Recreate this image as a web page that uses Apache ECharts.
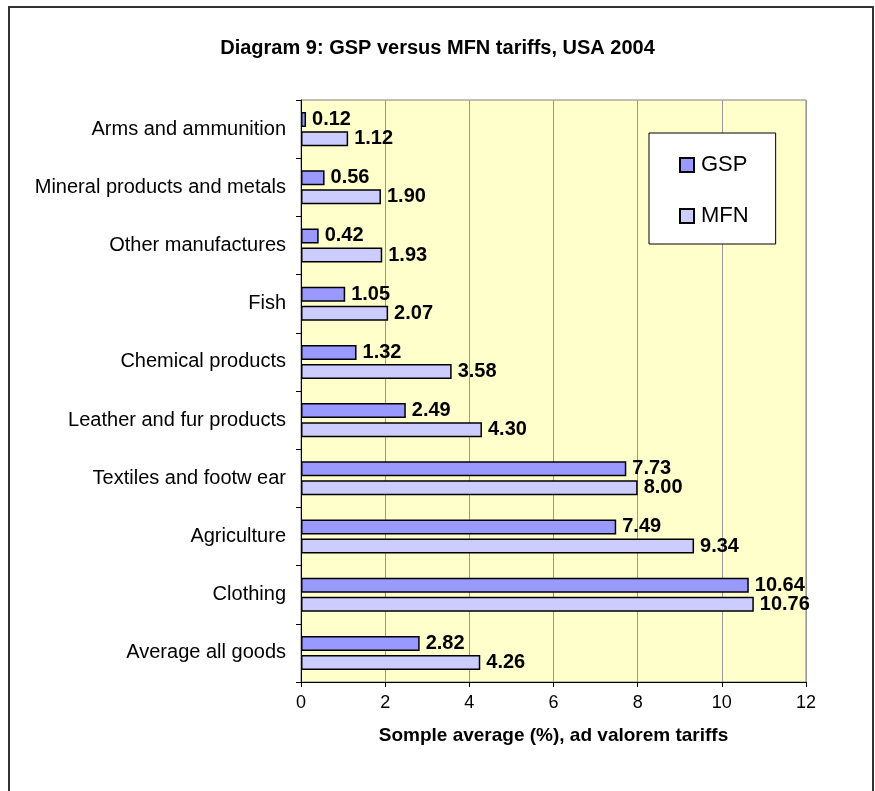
<!DOCTYPE html>
<html>
<head>
<meta charset="utf-8">
<script src="https://cdn.jsdelivr.net/npm/echarts@6/dist/echarts.min.js"></script>
<style>html,body{margin:0;padding:0;background:#fff;}#c{width:875px;height:791px;}</style>
</head>
<body>
<div id="c"></div>
<script>
const categories = ["Average all goods","Clothing","Agriculture","Textiles and footw ear","Leather and fur products","Chemical products","Fish","Other manufactures","Mineral products and metals","Arms and ammunition"];
const gspValues = [2.82,10.64,7.49,7.73,2.49,1.32,1.05,0.42,0.56,0.12];
const mfnValues = [4.26,10.76,9.34,8.00,4.30,3.58,2.07,1.93,1.90,1.12];
const xTicks = [0,2,4,6,8,10,12];

const FONT = 'Liberation Sans, Arial, sans-serif';
const chart = echarts.init(document.getElementById('c'));
const labelStyle = {show:true, position:'right', distance:6, fontFamily:FONT, fontWeight:'bold', fontSize:20, color:'#000', formatter: p => p.value.toFixed(2)};
chart.setOption({
  animation:false,
  title:{text:'Diagram 9: GSP versus MFN tariffs, USA 2004', left:'center', top:33, textStyle:{fontFamily:FONT, fontWeight:'bold', fontSize:20, color:'#000'}},
  graphic:[{type:'rect', shape:{x:9,y:7,width:864,height:790}, style:{fill:'none', stroke:'#333', lineWidth:2}, z:-1}],
  legend:{
    data:['GSP','MFN'], orient:'vertical', left:649, top:133,
    padding:[21,27,17,30], itemGap:29, itemWidth:14, itemHeight:14,
    backgroundColor:'#fff', borderColor:'#000', borderWidth:1,
    icon:'rect',
    textStyle:{fontFamily:FONT, fontSize:22, color:'#000', padding:[0,0,0,2]}
  },
  grid:{left:301, right:69, top:100, bottom:109, show:true, backgroundColor:'#FFFFCC', borderColor:'#808080', borderWidth:1},
  xAxis:{type:'value', min:0, max:12, interval:2,
    name:'Somple average (%), ad valorem tariffs', nameLocation:'middle', nameGap:44,
    nameTextStyle:{fontFamily:FONT, fontWeight:'bold', fontSize:19, color:'#000'},
    axisLine:{show:true, lineStyle:{color:'#000'}}, axisTick:{show:true, length:5, lineStyle:{color:'#000'}},
    axisLabel:{fontFamily:FONT, fontSize:18, color:'#000', margin:12, formatter: v => xTicks.includes(v) ? String(v) : ''},
    splitLine:{show:true, lineStyle:{color:'#999', width:1}}},
  yAxis:{type:'category', data:categories,
    axisLine:{show:true, lineStyle:{color:'#000'}}, axisTick:{show:true, length:5, lineStyle:{color:'#000'}},
    axisLabel:{fontFamily:FONT, fontSize:20, color:'#000', margin:15}},
  series:[
    {name:'GSP', type:'bar', data:gspValues, barWidth:15, barGap:'27%', itemStyle:{color:'#9999FF', borderColor:'#000', borderWidth:1.5}, label:labelStyle},
    {name:'MFN', type:'bar', data:mfnValues, barWidth:15, barGap:'27%', itemStyle:{color:'#CCCCFF', borderColor:'#000', borderWidth:1.5}, label:labelStyle}
  ]
});
</script>
</body>
</html>
